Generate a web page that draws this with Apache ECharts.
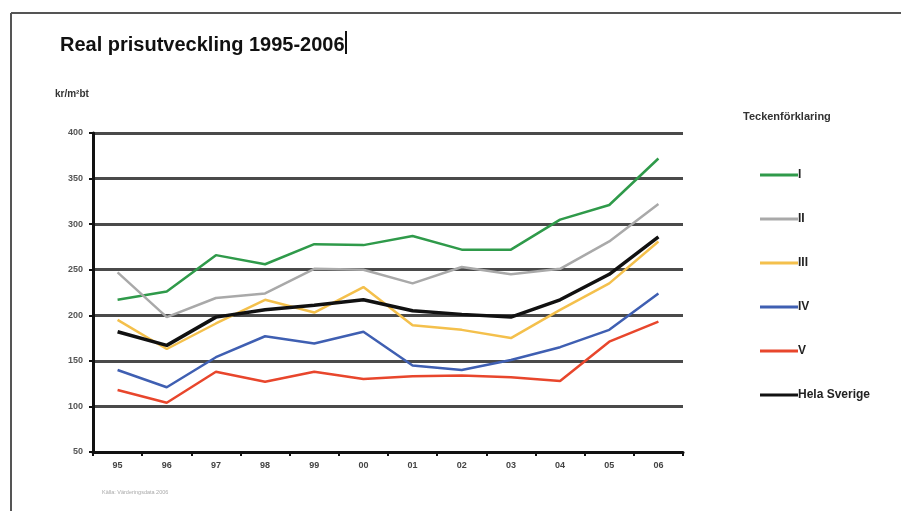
<!DOCTYPE html>
<html>
<head>
<meta charset="utf-8">
<script src="https://cdn.jsdelivr.net/npm/echarts@6/dist/echarts.min.js"></script>
<style>
html,body{margin:0;padding:0;background:#fff;}
#c{width:901px;height:511px;}
</style>
</head>
<body>
<div id="c"></div>
<script>
const years = ['95','96','97','98','99','00','01','02','03','04','05','06'];
const yTicks = [50,100,150,200,250,300,350,400];
const seriesNames = ['I','II','III','IV','V','Hela Sverige'];
const vI    = [217,226,266,256,278,277,287,272,272,305,321,372];
const vII   = [247,198,219,224,251,250,235,253,245,251,281,322];
const vIII  = [195,163,191,217,203,231,189,184,175,206,235,281];
const vIV   = [140,121,154,177,169,182,145,140,151,165,184,224];
const vV    = [118,104,138,127,138,130,133,134,132,128,171,193];
const vHela = [182,167,198,206,211,217,205,201,198,217,245,286];
const colors = ['#2f9a4a','#a9a9a9','#f4c04c','#3f5fb2','#e8462c','#111111'];
const allValues = [vI,vII,vIII,vIV,vV,vHela];

const chart = echarts.init(document.getElementById('c'), null, {renderer:'canvas'});
const font = 'Liberation Sans, Arial, sans-serif';
chart.setOption({
  animation:false,
  backgroundColor:'#fff',
  title:{
    text:'Real prisutveckling 1995-2006',
    left:55, top:30,
    textStyle:{fontFamily:font, fontSize:20, fontWeight:'bold', color:'#111'}
  },
  grid:{left:93, right:218, top:133, bottom:59, containLabel:false},
  legend:{
    orient:'vertical', left:755, top:164, itemGap:32,
    itemWidth:38, itemHeight:3, icon:'rect',
    data:seriesNames,
    textStyle:{fontFamily:font, fontSize:12, fontWeight:'bold', color:'#222', padding:[0,0,0,-5]}
  },
  xAxis:{
    type:'category', data:years, boundaryGap:true,
    axisLine:{lineStyle:{color:'#111', width:3}},
    axisTick:{show:true, length:4, lineStyle:{color:'#111', width:2}},
    axisLabel:{fontFamily:font, fontSize:9, fontWeight:'bold', color:'#444', margin:9},
    splitLine:{show:false}
  },
  yAxis:{
    type:'value', min:yTicks[0], max:yTicks[yTicks.length-1], interval:50,
    axisLine:{show:true, lineStyle:{color:'#111', width:3}},
    axisTick:{show:true, length:4, lineStyle:{color:'#111', width:2}},
    axisLabel:{fontFamily:font, fontSize:9, fontWeight:'bold', color:'#555', margin:10},
    splitLine:{show:true, lineStyle:{color:'#4a4a4a', width:3}}
  },
  series: seriesNames.map((n,i)=>({
    name:n, type:'line', data:allValues[i], showSymbol:false, symbol:'none',
    lineStyle:{color:colors[i], width: i===5 ? 3.5 : 2.5},
    itemStyle:{color:colors[i]},
    z: 3 + i
  })),
  graphic:[
    {type:'line', shape:{x1:11,y1:13,x2:901,y2:13}, style:{stroke:'#555', lineWidth:2}},
    {type:'line', shape:{x1:11,y1:13,x2:11,y2:511}, style:{stroke:'#555', lineWidth:2}},
    {type:'rect', shape:{x:345,y:31,width:2,height:23}, style:{fill:'#111'}},
    {type:'text', left:55, top:89, style:{text:'kr/m²bt', font:'bold 10px Liberation Sans, Arial, sans-serif', fill:'#333'}},
    {type:'text', left:743, top:111, style:{text:'Teckenförklaring', font:'bold 11px Liberation Sans, Arial, sans-serif', fill:'#333'}},
    {type:'text', left:102, top:489, style:{text:'Källa: Värderingsdata 2006', font:'5.5px Liberation Sans, Arial, sans-serif', fill:'#aaa'}}
  ]
});
</script>
</body>
</html>
